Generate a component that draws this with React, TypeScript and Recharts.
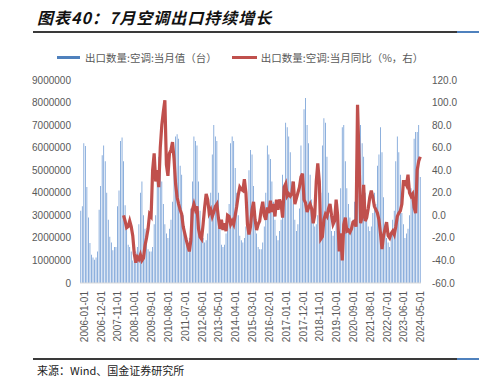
import React from "react";
import { Bar, ComposedChart, Line, XAxis, YAxis } from "recharts";

// monthly export volume, million units, by year
const vol2006 = [3.2, 3.4, 6.2, 6.07, 4.26, 2.9, 1.77, 1.25, 1.13, 1.03, 1.13, 1.4];
const vol2007 = [3.25, 4.3, 5.66, 6.1, 5.4, 4.0, 2.8, 2.05, 1.8, 1.45, 1.6, 1.6];
const vol2008 = [3.4, 4.1, 6.3, 6.45, 5.4, 3.45, 2.5, 1.7, 1.6, 1.4, 1.0, 1.1];
const vol2009 = [1.4, 1.6, 2.6, 4.0, 4.5, 3.0, 2.4, 1.9, 1.5, 1.4, 1.4, 1.6];
const vol2010 = [2.6, 3.0, 4.5, 5.6, 5.5, 4.5, 3.5, 2.6, 2.2, 2.0, 2.4, 2.8];
const vol2011 = [3.6, 5.0, 6.5, 6.6, 6.4, 5.2, 4.8, 3.0, 2.2, 2.0, 1.8, 2.0];
const vol2012 = [3.3, 4.5, 6.5, 6.3, 6.1, 4.5, 3.2, 2.4, 2.0, 1.8, 1.9, 2.2];
const vol2013 = [3.0, 4.0, 5.7, 7.0, 6.5, 6.3, 4.0, 2.8, 1.7, 1.6, 1.7, 2.2];
const vol2014 = [2.9, 3.5, 6.2, 6.5, 6.3, 5.1, 4.0, 3.0, 2.1, 1.9, 1.8, 2.0];
const vol2015 = [2.5, 3.2, 5.0, 5.9, 5.7, 4.3, 3.2, 2.2, 1.6, 1.5, 1.5, 1.8];
const vol2016 = [2.5, 4.0, 6.1, 5.7, 5.5, 4.5, 3.6, 2.8, 2.1, 1.9, 2.3, 2.8];
const vol2017 = [4.8, 4.2, 7.1, 6.9, 6.5, 5.8, 4.5, 3.5, 2.8, 2.3, 2.6, 3.3];
const vol2018 = [6.1, 4.8, 7.7, 8.2, 7.0, 6.2, 4.8, 3.7, 3.0, 2.5, 2.6, 3.0];
const vol2019 = [4.3, 4.0, 6.1, 7.3, 7.1, 5.6, 4.0, 3.0, 2.3, 2.1, 2.3, 3.2];
const vol2020 = [3.5, 2.3, 4.2, 6.9, 7.0, 5.4, 4.2, 3.5, 2.9, 2.6, 2.8, 3.6];
const vol2021 = [5.0, 4.6, 6.5, 7.0, 6.2, 5.6, 4.0, 3.2, 2.5, 2.3, 2.5, 3.1];
const vol2022 = [4.0, 3.5, 5.2, 5.7, 6.9, 5.8, 3.8, 2.6, 2.0, 1.8, 1.6, 2.2];
const vol2023 = [2.8, 3.2, 5.4, 6.5, 5.8, 4.8, 3.1, 2.6, 2.0, 2.2, 2.4, 3.0];
const vol2024 = [4.2, 4.0, 6.4, 6.7, 6.7, 7.0, 4.7];

// yoy %, from 2008-05 on
const yoy = [
  0, -5, -11, -10, -5, -10, -18, -34, -42, -37, -39, -35,
  -40, -38, -27, -20, -12, 1, -1, 40, 55, 30, 40, 25,
  60, 80, 92, 102, 45, 35, 55, 58, 65, 50, 28, 16,
  10, 5, 1, -10, -16, -22, -27, -32, -22, 5, 10, 5,
  8, -12, -19, -21, -8, 7, 19, 14, 2, 5, -1, 3,
  8, 10, -2, -12, -4, -13, -7, -14, 0, -1, -8, -5,
  -8, 0, 8, 18, 25,
  23, 22, 32, 20, -8, -17, -10, 5, 12, -4, -13, -8,
  -5, 5, 12, 0, -4, 7, 2, 13, 3, 10, -1, 14,
  5, 14, 10, -2, 25, 28, 17, 19, 17, 19, 30, 10,
  15, 20, 25, 34, 37, 14, 11, 3, 7, 10, 6, -7,
  0, 30, 46, 30, -21, -19, -4, 1, -1, 6, 10, 0,
  -8, -5, 14, 0, -32, -16, -40, -8, -2, -14, -13, -15,
  -12, -6, -5, -10, 98, 50, -7, -1, 27, -5, -2, 6,
  16, 22, 16, 8, 5, 2, -4, -16, -30, -18, -12, -6,
  -18, -20, -16, -14, -17, -10, -1, 2, 4, 10, 30, 30,
  27, 36, 20, 17, 19, 7, 2, 40, 48, 52,
];

const leftTicks = [0, 1000000, 2000000, 3000000, 4000000, 5000000, 6000000, 7000000, 8000000, 9000000];
const rightTicks = [-60, -40, -20, 0, 20, 40, 60, 80, 100, 120];

const volumes = [
  ...vol2006, ...vol2007, ...vol2008, ...vol2009, ...vol2010, ...vol2011, ...vol2012,
  ...vol2013, ...vol2014, ...vol2015, ...vol2016, ...vol2017, ...vol2018, ...vol2019,
  ...vol2020, ...vol2021, ...vol2022, ...vol2023, ...vol2024,
];
const yoyStart = volumes.length - yoy.length;

const data = volumes.map((v, i) => {
  const y = 2006 + Math.floor(i / 12);
  const m = (i % 12) + 1;
  return {
    month: `${y}-${m < 10 ? "0" + m : m}-01`,
    volume: Math.round(v * 1000000),
    yoy: i >= yoyStart ? yoy[i - yoyStart] : null,
  };
});

const cjk = '"Noto Sans CJK SC", "Liberation Sans", sans-serif';
const axisTick = { fontSize: 10, fill: "#595959", fontFamily: '"Liberation Sans", Arial, sans-serif' };

function Rule({ top }: { top: number }) {
  return (
    <>
      <div style={{ position: "absolute", left: 33, top, width: 424, height: 2, background: "#3a3a3a" }} />
      <div style={{ position: "absolute", left: 457, top, width: 22, height: 2, background: "#4f81bd" }} />
    </>
  );
}

export default function App() {
  return (
    <div style={{ position: "absolute", left: 0, top: 0, width: 479, height: 378, background: "#fff", overflow: "hidden" }}>
      <div
        style={{
          position: "absolute", left: 37, top: 5, fontFamily: cjk, fontSize: 16,
          fontWeight: "bold", fontStyle: "italic", letterSpacing: 1, color: "#111",
        }}
      >
        图表40：7月空调出口持续增长
      </div>
      <Rule top={31} />

      <div style={{ position: "absolute", left: 57, top: 50, fontFamily: cjk, fontSize: 10.5, color: "#595959", display: "flex", alignItems: "center", whiteSpace: "nowrap" }}>
        <span style={{ display: "inline-block", width: 23, height: 3, background: "#4f81bd", marginRight: 5 }} />
        <span>出口数量:空调:当月值（台）</span>
        <span style={{ display: "inline-block", width: 25, height: 3, background: "#c0504d", marginLeft: 15, marginRight: 4 }} />
        <span>出口数量:空调:当月同比（%，右）</span>
      </div>

      <div style={{ position: "absolute", left: 0, top: 0 }}>
        <ComposedChart
          width={479}
          height={378}
          data={data}
          barCategoryGap="25%"
          margin={{ top: 80, right: 0, bottom: 35, left: 0 }}
        >
          <XAxis
            dataKey="month"
            interval={10}
            angle={-90}
            textAnchor="end"
            height={60}
            tick={axisTick}
            tickLine={false}
            axisLine={{ stroke: "#d9d9d9" }}
          />
          <YAxis
            yAxisId="left"
            width={80}
            domain={[0, 9000000]}
            ticks={leftTicks}
            tick={axisTick}
            tickLine={false}
            tickMargin={3}
            axisLine={false}
          />
          <YAxis
            yAxisId="right"
            orientation="right"
            width={58}
            domain={[-60, 120]}
            ticks={rightTicks}
            tick={axisTick}
            tickFormatter={(v: number) => v.toFixed(1)}
            tickLine={false}
            tickMargin={5}
            axisLine={false}
          />
          <Bar yAxisId="left" dataKey="volume" fill="#6b98d3" isAnimationActive={false} />
          <Line
            yAxisId="right"
            dataKey="yoy"
            stroke="#c0504d"
            strokeWidth={3.2}
            dot={false}
            type="linear"
            isAnimationActive={false}
          />
        </ComposedChart>
      </div>

      <Rule top={358} />
      <div style={{ position: "absolute", left: 37, top: 362, fontFamily: cjk, fontSize: 11, color: "#222" }}>
        来源：Wind、国金证券研究所
      </div>
    </div>
  );
}
